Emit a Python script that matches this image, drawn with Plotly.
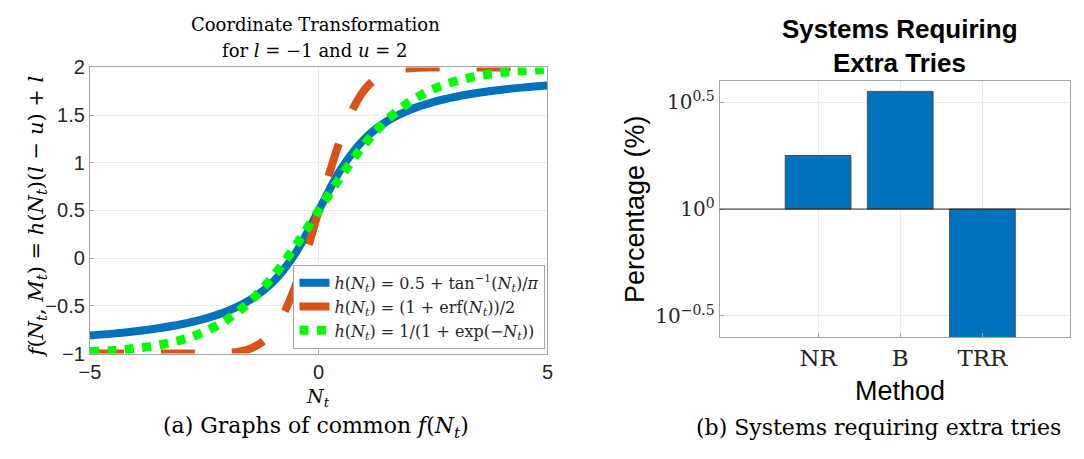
import plotly.graph_objects as go

# ---- Left panel data ----
x_atan = [-5, -4.5, -4, -3.5, -3, -2.5, -2, -1.5, -1, -0.5, 0, 0.5, 1, 1.5, 2, 2.5, 3, 3.5, 4, 4.5, 5]
y_atan = [-0.8115, -0.7912, -0.7661, -0.7342, -0.6928, -0.6366, -0.5573, -0.4385, -0.25, 0.0573, 0.5,
          0.9427, 1.25, 1.4385, 1.5573, 1.6366, 1.6928, 1.7342, 1.7661, 1.7912, 1.8115]

x_erf = [-5, -4, -3, -2.5, -2, -1.75, -1.5, -1.25, -1, -0.75, -0.5, -0.25, 0, 0.25, 0.5, 0.75, 1, 1.25,
         1.5, 1.75, 2, 2.5, 3, 4, 5]
y_erf = [-1.0, -1.0, -1.0, -0.9994, -0.9930, -0.9800, -0.9492, -0.8844, -0.7641, -0.5667, -0.2808, 0.0855,
         0.5, 0.9145, 1.2808, 1.5667, 1.7641, 1.8844, 1.9492, 1.9800, 1.9930, 1.9994, 2.0, 2.0, 2.0]

x_sig = [-5, -4.5, -4, -3.5, -3, -2.5, -2, -1.5, -1, -0.5, 0, 0.5, 1, 1.5, 2, 2.5, 3, 3.5, 4, 4.5, 5]
y_sig = [-0.9799, -0.9670, -0.9460, -0.9121, -0.8577, -0.7724, -0.6424, -0.4527, -0.1932, 0.1326, 0.5,
         0.8674, 1.1932, 1.4527, 1.6424, 1.7724, 1.8577, 1.9121, 1.9460, 1.9670, 1.9799]

legend_names = [
    "<i>h</i>(<i>N<sub>t</sub></i>) = 0.5 + tan<sup>−1</sup>(<i>N<sub>t</sub></i>)/<i>π</i>",
    "<i>h</i>(<i>N<sub>t</sub></i>) = (1 + erf(<i>N<sub>t</sub></i>))/2",
    "<i>h</i>(<i>N<sub>t</sub></i>) = 1/(1 + exp(−<i>N<sub>t</sub></i>))",
]
left_xticks = [-5, 0, 5]
left_yticks = [-1, -0.5, 0, 0.5, 1, 1.5, 2]

# ---- Right panel data ----
methods = ["NR", "B", "TRR"]
method_pos = [1, 2, 3]
percent = [1.78, 3.55, 0.1]
bar_base = 1.0
right_tickvals = [10 ** -0.5, 1, 10 ** 0.5]
right_ticktext = ["10<sup>−0.5</sup>", "10<sup>0</sup>", "10<sup>0.5</sup>"]

# The page body has an 8px margin: size the figure so the page does not overflow the
# 1084x459 window, and convert window pixel positions to paper fractions.
WIN_W, WIN_H = 1084, 459
OX, OY = 8, 8
W, H = WIN_W - 2 * OX, WIN_H - 2 * OY
SERIF = "DejaVu Serif"
SANS = "Liberation Sans"
TXT = "#262626"

def px(x):
    return (x - OX) / W

def py(y):
    return 1 - (y - OY) / H

fig = go.Figure()

fig.add_trace(go.Scatter(x=x_atan, y=y_atan, mode="lines", name=legend_names[0],
                         line=dict(color="#0072BD", width=8, shape="spline"),
                         xaxis="x", yaxis="y"))
fig.add_trace(go.Scatter(x=x_erf, y=y_erf, mode="lines", name=legend_names[1],
                         line=dict(color="#D95319", width=8, shape="spline", dash="34px,37px"),
                         xaxis="x", yaxis="y"))
fig.add_trace(go.Scatter(x=x_sig, y=y_sig, mode="lines", name=legend_names[2],
                         line=dict(color="#00FF00", width=9, shape="spline", dash="9px,8.5px"),
                         xaxis="x", yaxis="y"))

fig.add_trace(go.Bar(x=method_pos, y=[v - bar_base for v in percent], base=bar_base,
                     width=0.8, marker=dict(color="#0072BD", line=dict(color="#3a3a3a", width=0.8)),
                     showlegend=False, xaxis="x2", yaxis="y2"))

axis_common = dict(showline=True, linecolor="#A6A6A6", linewidth=1, mirror=True,
                   showgrid=True, gridcolor="#EBEBEB", gridwidth=1, zeroline=False,
                   ticks="inside", ticklen=4, tickcolor="#A6A6A6")

fig.update_layout(
    width=W, height=H,
    margin=dict(l=0, r=0, t=0, b=0),
    paper_bgcolor="white", plot_bgcolor="white",
    xaxis=dict(domain=[px(80), px(545)], range=[-5, 5], tickvals=left_xticks,
               tickfont=dict(family=SANS, size=20, color=TXT), anchor="y", **axis_common),
    yaxis=dict(domain=[py(360), py(59)], range=[-1, 2], tickvals=left_yticks,
               tickfont=dict(family=SANS, size=20, color=TXT), anchor="x", **axis_common),
    xaxis2=dict(domain=[px(720), 1.0], range=[-0.198, 4.066], tickvals=method_pos, ticktext=methods,
                tickfont=dict(family=SERIF, size=23, color=TXT), anchor="y2", **axis_common),
    yaxis2=dict(domain=[py(343), py(73)], type="log", range=[-0.6, 0.6], tickvals=right_tickvals,
                ticktext=right_ticktext, tickfont=dict(family=SERIF, size=20, color=TXT),
                anchor="x2", **axis_common),
    legend=dict(x=px(543), y=py(355), xanchor="right", yanchor="bottom",
                bgcolor="white", bordercolor="#A6A6A6", borderwidth=1,
                font=dict(family=SERIF, size=16, color=TXT), tracegroupgap=0,
                itemwidth=30),
    showlegend=True,
)

# baseline of bars
fig.add_shape(type="line", xref="x2 domain", yref="y2", x0=0, x1=1, y0=bar_base, y1=bar_base,
              line=dict(color="#262626", width=1))

ann = [
    dict(text="Coordinate Transformation", x=px(309), y=py(14), font=dict(family=SERIF, size=18)),
    dict(text="for <i>l</i> = −1 and <i>u</i> = 2", x=px(309), y=py(41), font=dict(family=SERIF, size=18)),
    dict(text="<i>f</i>(<i>N<sub>t</sub></i>, <i>M<sub>t</sub></i>) = <i>h</i>(<i>N<sub>t</sub></i>)(<i>l</i> − <i>u</i>) + <i>l</i>",
         x=px(26), y=py(216), textangle=-90, font=dict(family=SERIF, size=21)),
    dict(text="<i>N<sub>t</sub></i>", x=px(312), y=py(406), font=dict(family=SERIF, size=19)),
    dict(text="(a) Graphs of common <i>f</i>(<i>N<sub>t</sub></i>)", x=px(310), y=py(438),
         font=dict(family=SERIF, size=22)),
    dict(text="<b>Systems Requiring</b>", x=px(903), y=py(19), font=dict(family=SANS, size=26)),
    dict(text="<b>Extra Tries</b>", x=px(903), y=py(54), font=dict(family=SANS, size=26)),
    dict(text="Percentage (%)", x=px(634), y=py(208), textangle=-90, font=dict(family=SANS, size=27)),
    dict(text="Method", x=px(903), y=py(399), font=dict(family=SANS, size=27)),
    dict(text="(b) Systems requiring extra tries", x=px(881), y=py(438), font=dict(family=SERIF, size=22)),
]
for a in ann:
    a.setdefault("xref", "paper")
    a.setdefault("yref", "paper")
    a["showarrow"] = False
    a["xanchor"] = "center"
    a["yanchor"] = "middle"
    a["font"].setdefault("color", "black")
    fig.add_annotation(**a)

fig.write_html("out.html")
